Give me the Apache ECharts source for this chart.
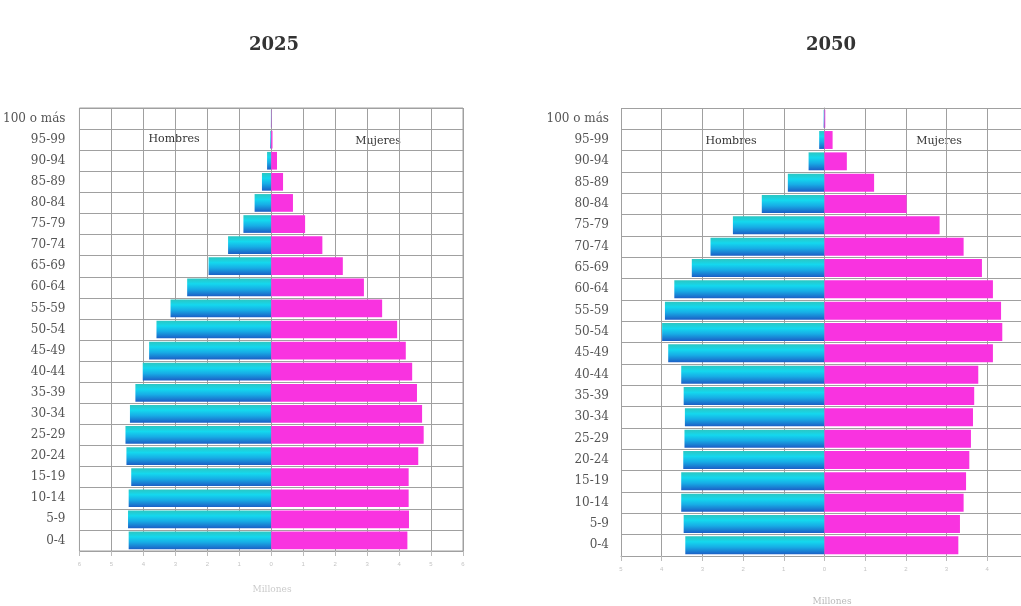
<!DOCTYPE html>
<html>
<head>
<meta charset="utf-8">
<script src="https://cdn.jsdelivr.net/npm/echarts@6/dist/echarts.min.js"></script>
<style>
html,body{margin:0;padding:0;background:#fff;}
#chart{width:1021px;height:606px;}
</style>
</head>
<body>
<div id="chart"></div>
<script>
var categories = ['0-4','5-9','10-14','15-19','20-24','25-29','30-34','35-39','40-44','45-49','50-54','55-59','60-64','65-69','70-74','75-79','80-84','85-89','90-94','95-99','100 o más'];
var men2025 = [4.46,4.48,4.46,4.38,4.53,4.56,4.42,4.25,4.02,3.82,3.59,3.15,2.63,1.96,1.35,0.87,0.52,0.29,0.13,0.03,0.01];
var women2025 = [4.26,4.31,4.30,4.30,4.60,4.77,4.72,4.56,4.41,4.21,3.94,3.47,2.90,2.24,1.60,1.06,0.68,0.37,0.18,0.04,0.01];
var men2050 = [3.42,3.46,3.52,3.52,3.47,3.44,3.43,3.46,3.52,3.84,3.99,3.92,3.69,3.26,2.80,2.25,1.54,0.90,0.39,0.13,0.02];
var women2050 = [3.29,3.33,3.42,3.48,3.56,3.60,3.65,3.68,3.78,4.14,4.37,4.34,4.14,3.87,3.42,2.83,2.02,1.22,0.55,0.20,0.02];
var titles = ['2025','2050'];

var chart = echarts.init(document.getElementById('chart'));
var serif = '"DejaVu Serif", "Liberation Serif", serif';
var gridColor = '#a0a0a0';
var maleColor = new echarts.graphic.LinearGradient(0,0,0,1,[
  {offset:0,color:'#2cc6c2'},{offset:0.3,color:'#14d8ee'},{offset:0.6,color:'#17ade6'},{offset:1,color:'#1b5fc6'}]);
var femaleColor = '#f933e0';
function neg(a){return a.map(function(v){return -v;});}

function xAxisCfg(idx,mn,mx){
  return {gridIndex:idx,type:'value',min:mn,max:mx,interval:1,
    axisLine:{show:true,lineStyle:{color:gridColor}},
    axisTick:{show:true,length:5,lineStyle:{color:'#bbb'}},
    axisLabel:{fontSize:6,color:'#c4c4c4',margin:10,showMaxLabel:Math.round(mx)===mx,
      formatter:function(v){return Math.round(v)===v?Math.abs(v):'';}},
    splitLine:{show:true,lineStyle:{color:gridColor,width:1}}};
}
function yAxisCfg(idx,margin,line){
  return {gridIndex:idx,type:'category',data:categories,
    axisLine:{show:line,lineStyle:{color:gridColor}},axisTick:{show:false},
    axisLabel:{fontFamily:serif,fontSize:12,color:'#555',margin:margin,interval:0},
    splitLine:{show:true,interval:0,lineStyle:{color:gridColor,width:1}}};
}
function barS(idx,data,color){
  return {type:'bar',xAxisIndex:idx,yAxisIndex:idx,data:data,barGap:'-100%',barCategoryGap:'16%',
    itemStyle:{color:color},silent:true};
}

var option = {
  animation:false,
  backgroundColor:'#fff',
  grid:[
    {left:77,right:558,top:108,bottom:55,show:true,borderColor:gridColor,borderWidth:1},
    {left:621,right:0,top:108,bottom:50,show:false}
  ],
  xAxis:[xAxisCfg(0,-6,6),xAxisCfg(1,-5,4.83)],
  yAxis:[yAxisCfg(0,14,false),yAxisCfg(1,12,true)],
  series:[
    barS(0,neg(men2025),maleColor),
    barS(0,women2025,femaleColor),
    barS(1,neg(men2050),maleColor),
    barS(1,women2050,femaleColor)
  ],
  graphic:[
    {type:'text',x:274,y:45,style:{text:titles[0],align:'center',verticalAlign:'middle',font:'bold 18px '+serif,fill:'#333'}},
    {type:'text',x:831,y:45,style:{text:titles[1],align:'center',verticalAlign:'middle',font:'bold 18px '+serif,fill:'#333'}},
    {type:'text',x:174,y:139,style:{text:'Hombres',align:'center',verticalAlign:'middle',font:'11px '+serif,fill:'#333'}},
    {type:'text',x:378,y:141,style:{text:'Mujeres',align:'center',verticalAlign:'middle',font:'11px '+serif,fill:'#333'}},
    {type:'text',x:731,y:141,style:{text:'Hombres',align:'center',verticalAlign:'middle',font:'11px '+serif,fill:'#333'}},
    {type:'text',x:939,y:141,style:{text:'Mujeres',align:'center',verticalAlign:'middle',font:'11px '+serif,fill:'#333'}},
    {type:'text',x:272,y:590,style:{text:'Millones',align:'center',verticalAlign:'middle',font:'9px '+serif,fill:'#ccc'}},
    {type:'text',x:832,y:602,style:{text:'Millones',align:'center',verticalAlign:'middle',font:'9px '+serif,fill:'#bbb'}}
  ]
};
chart.setOption(option);
</script>
</body>
</html>
